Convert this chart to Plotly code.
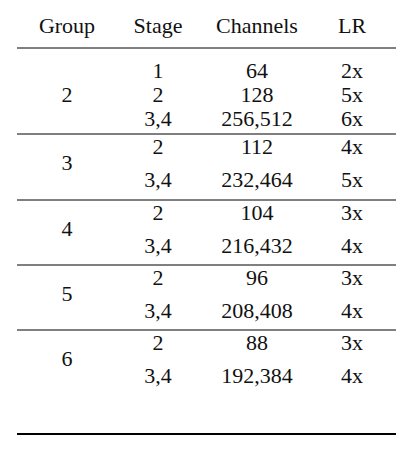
import plotly.graph_objects as go

headers = ["Group", "Stage", "Channels", "LR"]
groups = ["2", "3", "4", "5", "6"]
stages = [["1", "2", "3,4"], ["2", "3,4"], ["2", "3,4"], ["2", "3,4"], ["2", "3,4"]]
channels = [["64", "128", "256,512"], ["112", "232,464"], ["104", "216,432"],
            ["96", "208,408"], ["88", "192,384"]]
lrs = [["2x", "5x", "6x"], ["4x", "5x"], ["3x", "4x"], ["3x", "4x"], ["3x", "4x"]]

col_x = [67, 158, 257, 352]
header_y = 27
group_tops = [56, 134, 200, 265, 330]
row_h = 24

xs, ys, txt = [], [], []
for h, x in zip(headers, col_x):
    xs.append(x); ys.append(header_y); txt.append(h)
for g, top, st, ch, lr in zip(groups, group_tops, stages, channels, lrs):
    n = len(st)
    first = top + 16 if n == 3 else top + 14
    step = row_h if n == 3 else 33
    xs.append(col_x[0]); ys.append(first + step * (n - 1) / 2); txt.append(g)
    for i in range(n):
        y = first + step * i
        for x, v in zip(col_x[1:], [st[i], ch[i], lr[i]]):
            xs.append(x); ys.append(y); txt.append(v)

fig = go.Figure(go.Scatter(
    x=xs, y=ys, text=txt, mode="text",
    textfont=dict(family="Times New Roman, Liberation Serif, serif", size=22, color="#111"),
    hoverinfo="skip",
))

lines = [(4, 2), (48, 1), (134, 1), (200, 1), (265, 1), (330, 1), (434, 2)]
for y, w in lines:
    fig.add_shape(type="line", x0=17, x1=398, y0=y, y1=y, line=dict(color="black", width=w))

# page body has an 8px margin, so shrink the figure and offset the ranges
fig.update_layout(
    width=388, height=452,
    margin=dict(l=0, r=0, t=0, b=0),
    paper_bgcolor="white", plot_bgcolor="white",
    showlegend=False,
    xaxis=dict(range=[8, 396], visible=False),
    yaxis=dict(range=[460, 8], visible=False),
)
fig.write_html("out.html", config={"displayModeBar": False})
